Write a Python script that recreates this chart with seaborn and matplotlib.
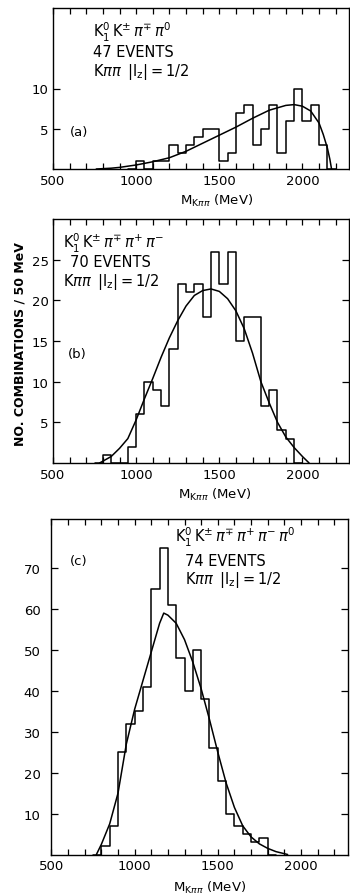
import numpy as np
import pandas as pd
import matplotlib
matplotlib.use("Agg")
import matplotlib.pyplot as plt
import seaborn as sns

# ---------------- data ----------------
bin_width = 50

a_first_bin = 1000
a_counts = [1, 0, 1, 1, 3, 2, 3, 4, 5, 5, 1, 2, 7, 8, 3, 5, 8, 2, 6, 10, 6, 8, 3]
a_curve_m = [760, 850, 900, 1000, 1100, 1200, 1300, 1400, 1500, 1600, 1700, 1800,
             1900, 1950, 2000, 2050, 2100, 2125, 2150, 2165, 2175]
a_curve_n = [0, 0.1, 0.2, 0.5, 0.9, 1.4, 2.2, 3.2, 4.2, 5.2, 6.3, 7.3,
             7.9, 8.0, 7.8, 7.2, 5.7, 4.3, 2.6, 1.2, 0]

b_first_bin = 800
b_counts = [1, 0, 0, 2, 6, 10, 9, 7, 14, 22, 21, 22, 18, 26, 22, 26, 15, 18, 18, 7, 9, 4, 3]
b_curve_m = [780, 850, 900, 950, 1000, 1050, 1100, 1150, 1200, 1250, 1300, 1350, 1400,
             1450, 1500, 1550, 1600, 1650, 1700, 1750, 1800, 1850, 1900, 1950, 2000, 2040]
b_curve_n = [0, 0.8, 1.8, 3.0, 5.3, 7.9, 10.4, 13.0, 15.4, 17.5, 19.3, 20.6, 21.2,
             21.4, 21.1, 20.2, 18.7, 16.5, 13.5, 10.0, 7.4, 5.0, 3.2, 1.9, 0.8, 0]

c_first_bin = 800
c_counts = [2, 7, 25, 32, 35, 41, 65, 75, 61, 48, 40, 50, 38, 26, 18, 10, 7, 5, 3, 4]
c_curve_m = [770, 800, 850, 900, 950, 1000, 1050, 1100, 1150, 1175, 1200, 1250, 1300,
             1350, 1400, 1450, 1500, 1550, 1600, 1650, 1700, 1750, 1800, 1850, 1900, 1920]
c_curve_n = [0, 2.5, 7.5, 15, 27, 35.5, 42.5, 49.5, 56.5, 59, 58.5, 56.5, 52.5,
             47, 40.5, 33, 25, 17.5, 11.5, 7, 4.3, 2.6, 1.5, 0.7, 0.2, 0]

x_ticks_major = [500, 1000, 1500, 2000]
a_yticks = [5, 10]
b_yticks = [5, 10, 15, 20, 25]
c_yticks = [10, 20, 30, 40, 50, 60, 70]

iz_text = r"$\mathrm{K}\pi\pi\ \,|\mathrm{I_z}|=1/2$"
a_text = [r"$\mathrm{K_1^0\,K^{\pm}}\,\pi^{\mp}\,\pi^{0}$", "47 EVENTS", iz_text]
b_text = [r"$\mathrm{K_1^0\,K^{\pm}}\,\pi^{\mp}\,\pi^{+}\,\pi^{-}$", "70 EVENTS", iz_text]
c_text = [r"$\mathrm{K_1^0\,K^{\pm}}\,\pi^{\mp}\,\pi^{+}\,\pi^{-}\,\pi^{0}$", "74 EVENTS", iz_text]

xlabel = r"$\mathrm{M}_{\mathrm{K}\pi\pi}$ (MeV)"
ylabel = "NO. COMBINATIONS / 50 MeV"

# ---------------- style ----------------
sns.set_style("ticks")
plt.rcParams["font.family"] = ["DejaVu Sans"]
plt.rcParams["mathtext.fontset"] = "dejavusans"
for key in ["text.color", "axes.labelcolor", "xtick.color", "ytick.color", "axes.edgecolor"]:
    plt.rcParams[key] = "black"

W, H = 350, 895
fig = plt.figure(figsize=(W / 100, H / 100), dpi=100)
fig.patch.set_facecolor("white")


def axes_px(left, top, right, bottom):
    return fig.add_axes([left / W, 1 - bottom / H, (right - left) / W, (bottom - top) / H])


def draw_panel(ax, first_bin, counts, cm, cn, ylim, yticks, ylabelpad):
    counts = [float(c) for c in counts]
    last_edge = first_bin + bin_width * len(counts)
    centers = [first_bin + bin_width * i + bin_width / 2 for i in range(len(counts))]
    df = pd.DataFrame({"m": centers, "n": counts})
    # one empty bin on each side so the step outline closes down to zero
    sns.histplot(data=df, x="m", weights="n", binwidth=bin_width,
                 binrange=(first_bin - bin_width, last_edge + bin_width), element="step",
                 fill=False, color="black", linewidth=1.1, ax=ax)
    sns.lineplot(x=cm, y=cn, sort=False, estimator=None, color="black",
                 linewidth=1.1, ax=ax)
    ax.set_xlim(500, 2280)
    ax.set_ylim(*ylim)
    ax.set_xticks(x_ticks_major)
    ax.set_xticks(np.arange(600, 2300, 100), minor=True)
    ax.set_yticks(yticks)
    ax.set_yticklabels([str(t) for t in yticks])
    ax.tick_params(axis="x", which="both", direction="in", top=True, bottom=True,
                   length=4.5, width=0.9, labelsize=9.5, pad=3.5, colors="black")
    ax.tick_params(axis="y", which="major", direction="in", left=True, right=True,
                   length=5, width=0.9, labelsize=9.5, pad=ylabelpad, colors="black")
    ax.tick_params(axis="x", which="minor", labelbottom=False)
    for s in ax.spines.values():
        s.set_linewidth(1.0)
        s.set_color("black")
    ax.set_ylabel("")
    ax.set_xlabel("")


TS = 10.5
ES = 10.5

# panel (a)
ax_a = axes_px(53, 9, 349, 170)
draw_panel(ax_a, a_first_bin, a_counts, a_curve_m, a_curve_n, (0, 20), a_yticks, 3)
ax_a.text(0.135, 0.857, a_text[0], transform=ax_a.transAxes, fontsize=TS, va="center", ha="left")
ax_a.text(0.135, 0.727, a_text[1], transform=ax_a.transAxes, fontsize=ES, va="center", ha="left")
ax_a.text(0.135, 0.609, a_text[2], transform=ax_a.transAxes, fontsize=TS, va="center", ha="left")
ax_a.text(0.057, 0.236, "(a)", transform=ax_a.transAxes, fontsize=9.5, va="center", ha="left")
ax_a.set_xlabel(xlabel, fontsize=9.5)
ax_a.xaxis.set_label_coords(0.554, -0.14)

# panel (b)
ax_b = axes_px(53, 220, 349, 464)
draw_panel(ax_b, b_first_bin, b_counts, b_curve_m, b_curve_n, (0, 30), b_yticks, 3)
ax_b.text(0.034, 0.906, b_text[0], transform=ax_b.transAxes, fontsize=TS, va="center", ha="left")
ax_b.text(0.057, 0.824, b_text[1], transform=ax_b.transAxes, fontsize=ES, va="center", ha="left")
ax_b.text(0.034, 0.746, b_text[2], transform=ax_b.transAxes, fontsize=TS, va="center", ha="left")
ax_b.text(0.051, 0.447, "(b)", transform=ax_b.transAxes, fontsize=9.5, va="center", ha="left")
ax_b.set_xlabel(xlabel, fontsize=9.5)
ax_b.xaxis.set_label_coords(0.547, -0.095)
ax_b.set_ylabel(ylabel, fontsize=9, fontweight="bold")
ax_b.yaxis.set_label_coords(-0.088, 0.49)

# panel (c)
ax_c = axes_px(51.5, 520, 347.5, 855.5)
draw_panel(ax_c, c_first_bin, c_counts, c_curve_m, c_curve_n, (0, 82), c_yticks, 8)
ax_c.text(0.417, 0.949, c_text[0], transform=ax_c.transAxes, fontsize=TS, va="center", ha="left")
ax_c.text(0.451, 0.875, c_text[1], transform=ax_c.transAxes, fontsize=ES, va="center", ha="left")
ax_c.text(0.451, 0.822, c_text[2], transform=ax_c.transAxes, fontsize=TS, va="center", ha="left")
ax_c.text(0.0625, 0.875, "(c)", transform=ax_c.transAxes, fontsize=9.5, va="center", ha="left")
ax_c.set_xlabel(xlabel, fontsize=9.5)
ax_c.xaxis.set_label_coords(0.535, -0.072)

fig.savefig("out.png", dpi=100, facecolor="white")
